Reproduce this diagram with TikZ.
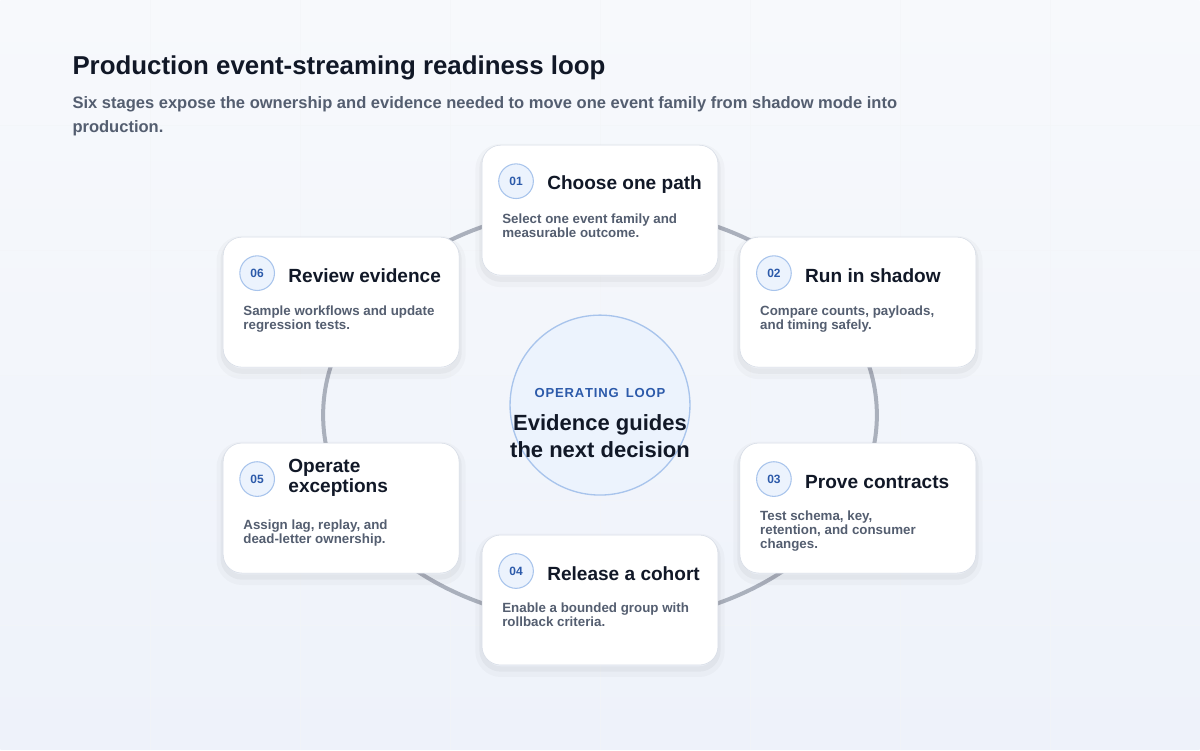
\documentclass[tikz,border=0pt]{standalone}
\usepackage{fontspec}
\setmainfont{Liberation Sans}
\definecolor{inkdark}{RGB}{17,24,39}
\definecolor{inkgray}{RGB}{84,94,112}
\definecolor{loopblue}{RGB}{44,90,170}
\definecolor{ringgray}{RGB}{170,176,188}
\definecolor{cardline}{RGB}{214,220,230}
\definecolor{badgefill}{RGB}{236,243,253}
\definecolor{badgeline}{RGB}{168,196,236}
\definecolor{bgtop}{RGB}{247,249,252}
\definecolor{bgbot}{RGB}{238,242,250}

\begin{document}
\begin{tikzpicture}[x=0.75pt,y=-0.75pt,
    card/.style={draw=cardline, fill=white, rounded corners=14pt, minimum width=177pt, minimum height=97.5pt,
        preaction={draw=black, line width=10pt, draw opacity=0.025, transform canvas={yshift=-4pt}},
        preaction={draw=black, line width=4pt, draw opacity=0.035, transform canvas={yshift=-3pt}}},
    badge/.style={circle, draw=badgeline, fill=badgefill, line width=0.8pt, minimum size=26pt, inner sep=0pt,
        font=\fontsize{9}{9}\selectfont\bfseries, text=loopblue},
    ctitle/.style={anchor=west, align=left, font=\fontsize{14.3}{15}\selectfont\bfseries, text=inkdark, inner sep=0pt},
    cdesc/.style={anchor=north west, align=left, font=\fontsize{10}{10.5}\selectfont\bfseries, text=inkgray, inner sep=0pt}]
    % background
    \shade[top color=bgtop, bottom color=bgbot] (0,0) rectangle (1200,750);
    \foreach \gx in {150,300,...,1050} \draw[white!70!cardline, opacity=0.5] (\gx,0) -- (\gx,750);
    \foreach \gy in {125,250,...,625} \draw[white!70!cardline, opacity=0.5] (0,\gy) -- (1200,\gy);
    \useasboundingbox (0,0) rectangle (1200,750);

    % heading
    \node[anchor=west, inner sep=0pt, font=\fontsize{19.4}{21}\selectfont\bfseries, text=inkdark] (head) at (72,68)
        {Production event-streaming readiness loop};
    \node[anchor=north west, align=left, inner sep=0pt, font=\fontsize{12.4}{18}\selectfont\bfseries, text=inkgray] (sub) at (72,96)
        {Six stages expose the ownership and evidence needed to move one event family from shadow mode into\\production.};

    % loop ring
    \coordinate (loopc) at (600,415);
    \draw[ringgray, line width=3pt] (loopc) ellipse[x radius=277, y radius=208];

    % centre
    \node[circle, draw=badgeline, fill=badgefill, line width=1pt, minimum size=135pt] (hub) at (600,405) {};
    \node[font=\fontsize{9.8}{10}\selectfont\bfseries, text=loopblue] (hubtag) at (600,393) {O\kern.6pt P\kern.6pt E\kern.6pt R\kern.6pt A\kern.6pt T\kern.6pt I\kern.6pt N\kern.6pt G\; L\kern.6pt O\kern.6pt O\kern.6pt P};
    \node[align=center, font=\fontsize{16.5}{20}\selectfont\bfseries, text=inkdark] (hubtext) at (600,436)
        {Evidence guides\\the next decision};

    % stage 01
    \node[card] (s1) at (600,210) {};
    \node[badge] (b1) at (516,181) {01};
    \node[ctitle] (t1) at (547,184) {Choose one path};
    \node[cdesc] (d1) at (502,213) {Select one event family and\\measurable outcome.};

    % stage 02
    \node[card] (s2) at (858,302) {};
    \node[badge] (b2) at (774,273) {02};
    \node[ctitle] (t2) at (805,276) {Run in shadow};
    \node[cdesc] (d2) at (760,305) {Compare counts, payloads,\\and timing safely.};

    % stage 03
    \node[card] (s3) at (858,508) {};
    \node[badge] (b3) at (774,479) {03};
    \node[ctitle] (t3) at (805,482) {Prove contracts};
    \node[cdesc] (d3) at (760,511) {Test schema, key,\\retention, and consumer\\changes.};

    % stage 04
    \node[card] (s4) at (600,600) {};
    \node[badge] (b4) at (516,571) {04};
    \node[ctitle] (t4) at (547,574) {Release a cohort};
    \node[cdesc] (d4) at (502,603) {Enable a bounded group with\\rollback criteria.};

    % stage 05
    \node[card] (s5) at (341,508) {};
    \node[badge] (b5) at (257,479) {05};
    \node[ctitle] (t5) at (288,478) {Operate\\exceptions};
    \node[cdesc] (d5) at (243,520) {Assign lag, replay, and\\dead-letter ownership.};

    % stage 06
    \node[card] (s6) at (341,302) {};
    \node[badge] (b6) at (257,273) {06};
    \node[ctitle] (t6) at (288,276) {Review evidence};
    \node[cdesc] (d6) at (243,305) {Sample workflows and update\\regression tests.};
\end{tikzpicture}
\end{document}
